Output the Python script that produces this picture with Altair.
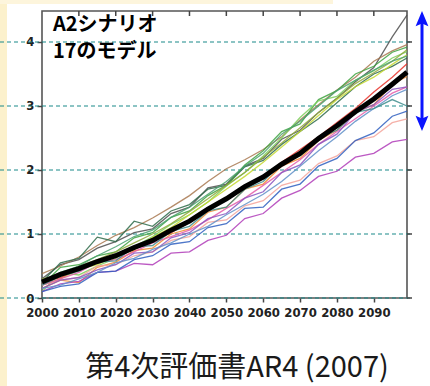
import altair as alt
import pandas as pd

# Years sampled along each projection (every 5 years, plus the final year)
YEARS = [2000, 2005, 2010, 2015, 2020, 2025, 2030, 2035, 2040, 2045, 2050,
         2055, 2060, 2065, 2070, 2075, 2080, 2085, 2090, 2095, 2099]

# Surface warming (deg C) projected by the individual A2 model runs
m01 = [0.30, 0.52, 0.60, 0.78, 0.88, 1.02, 1.08, 1.32, 1.42, 1.72, 1.78, 2.06, 2.18, 2.48, 2.62, 2.90, 3.12, 3.38, 3.60, 4.08, 4.42]
m02 = [0.38, 0.50, 0.64, 0.82, 0.98, 1.10, 1.25, 1.42, 1.60, 1.82, 2.02, 2.16, 2.32, 2.52, 2.78, 3.02, 3.25, 3.45, 3.70, 3.86, 3.96]
m03 = [0.25, 0.55, 0.62, 0.95, 0.88, 1.20, 1.12, 1.36, 1.46, 1.70, 1.76, 2.05, 2.15, 2.40, 2.60, 2.80, 3.05, 3.30, 3.50, 3.62, 3.75]
m04 = [0.20, 0.48, 0.52, 0.66, 0.72, 0.94, 1.02, 1.26, 1.36, 1.60, 1.76, 2.08, 2.30, 2.60, 2.72, 3.10, 3.24, 3.50, 3.62, 3.84, 3.92]
m05 = [0.10, 0.40, 0.36, 0.50, 0.62, 0.80, 0.96, 1.15, 1.30, 1.50, 1.75, 1.96, 2.22, 2.50, 2.82, 3.08, 3.15, 3.40, 3.55, 3.75, 3.85]
m06 = [0.20, 0.30, 0.45, 0.52, 0.66, 0.76, 0.95, 1.10, 1.30, 1.50, 1.70, 1.90, 2.12, 2.36, 2.60, 2.85, 3.10, 3.30, 3.45, 3.65, 3.80]
m07 = [0.30, 0.36, 0.50, 0.60, 0.72, 0.86, 1.00, 1.16, 1.35, 1.55, 1.76, 1.96, 2.20, 2.42, 2.66, 2.90, 3.12, 3.35, 3.52, 3.70, 3.88]
m08 = [0.25, 0.32, 0.46, 0.56, 0.66, 0.76, 0.88, 1.02, 1.18, 1.36, 1.56, 1.72, 1.90, 2.12, 2.32, 2.52, 2.74, 2.96, 3.22, 3.45, 3.66]
m09 = [0.15, 0.28, 0.24, 0.48, 0.56, 0.74, 0.78, 1.00, 1.08, 1.34, 1.42, 1.70, 1.78, 2.06, 2.18, 2.46, 2.62, 2.90, 3.02, 3.34, 3.46]
m10 = [0.20, 0.28, 0.32, 0.50, 0.52, 0.66, 0.72, 0.90, 0.96, 1.18, 1.22, 1.44, 1.52, 1.76, 1.84, 2.10, 2.22, 2.46, 2.52, 2.74, 2.80]
m11 = [0.20, 0.30, 0.40, 0.56, 0.60, 0.72, 0.86, 0.96, 1.06, 1.22, 1.40, 1.56, 1.76, 1.96, 2.16, 2.40, 2.60, 2.80, 3.00, 3.20, 3.30]
m12 = [0.10, 0.22, 0.26, 0.40, 0.42, 0.54, 0.52, 0.70, 0.72, 0.90, 0.98, 1.24, 1.32, 1.56, 1.68, 1.90, 1.98, 2.20, 2.26, 2.44, 2.48]
m13 = [0.15, 0.28, 0.32, 0.44, 0.52, 0.70, 0.72, 0.94, 1.02, 1.24, 1.32, 1.56, 1.66, 1.96, 2.08, 2.40, 2.56, 2.90, 3.02, 3.26, 3.30]
m14 = [0.10, 0.18, 0.22, 0.40, 0.42, 0.60, 0.66, 0.84, 0.88, 1.10, 1.16, 1.40, 1.42, 1.70, 1.78, 2.06, 2.18, 2.46, 2.58, 2.84, 2.92]
m15 = [0.15, 0.20, 0.30, 0.40, 0.55, 0.62, 0.76, 0.86, 1.00, 1.12, 1.30, 1.46, 1.62, 1.82, 2.06, 2.30, 2.52, 2.76, 2.96, 3.16, 3.26]
m16 = [0.20, 0.34, 0.42, 0.56, 0.58, 0.80, 0.82, 1.04, 1.12, 1.36, 1.42, 1.70, 1.82, 2.10, 2.22, 2.50, 2.62, 2.90, 2.96, 3.10, 3.00]
m17 = [0.25, 0.40, 0.50, 0.66, 0.80, 0.96, 1.06, 1.26, 1.42, 1.62, 1.82, 2.06, 2.26, 2.56, 2.76, 3.00, 3.24, 3.40, 3.56, 3.70, 3.78]

# Multi-model ensemble mean
ensemble_mean = [0.25, 0.37, 0.46, 0.57, 0.66, 0.79, 0.90, 1.06, 1.20, 1.39, 1.55,
                 1.74, 1.89, 2.09, 2.26, 2.49, 2.69, 2.91, 3.11, 3.34, 3.53]

MODELS = [m01, m02, m03, m04, m05, m06, m07, m08, m09, m10, m11, m12, m13, m14, m15, m16, m17]
PALETTE = ["#4d4d4d", "#a87850", "#2f6b4a", "#3fa33f", "#7ccf5a", "#c4d82e", "#8fa83a",
           "#e8332a", "#f08a30", "#f3a39a", "#e45aa8", "#b03cb8", "#8855c0", "#2f5fbf",
           "#5f8fc8", "#3d8c8c", "#4aa070"]

Y_LEVELS = [0, 1, 2, 3, 4]
DECADES = [2010, 2020, 2030, 2040, 2050, 2060, 2070, 2080, 2090]

TITLE_LINES = ["A2シナリオ", "17のモデル"]
CAPTION = "第4次評価書AR4 (2007)"

W, H = 365, 287
JP = "Noto Sans CJK JP"
NUM_FONT = "DejaVu Sans Condensed"

rows = []
for i, series in enumerate(MODELS):
    name = f"model{i + 1:02d}"
    for yr, v in zip(YEARS, series):
        rows.append({"year": yr, "temp": v, "model": name})
models_df = pd.DataFrame(rows)
mean_df = pd.DataFrame({"year": YEARS, "temp": ensemble_mean})
levels_df = pd.DataFrame({"v": Y_LEVELS})
decades_df = pd.DataFrame({"year": DECADES})
one = pd.DataFrame({"k": [0]})

x_scale = alt.Scale(domain=[2000, 2099], nice=False, zero=False)
y_scale = alt.Scale(domain=[0, 4.484], nice=False, zero=False)

x_axis = alt.Axis(values=list(range(2000, 2100, 10)), format="d", tickSize=4,
                  labelPadding=4, labelFlush=False, labelOverlap=False, title=None)
y_axis = alt.Axis(values=Y_LEVELS, format="d", tickSize=5, labelPadding=3,
                  labelFlush=False, labelOverlap=False, title=None)

# Cream page strips on the left edge and along the top
strip_left = alt.Chart(one).mark_rect(color="#fcf1cc").encode(
    x=alt.value(-42), x2=alt.value(-35), y=alt.value(-11), y2=alt.value(375))
strip_top = alt.Chart(one).mark_rect(color="#fdf5dc").encode(
    x=alt.value(-42), x2=alt.value(291), y=alt.value(-11), y2=alt.value(-7))

# Dashed reference levels running across the panel
levels = alt.Chart(levels_df).mark_rule(
    color="#1b8a8a", strokeDash=[4, 3], strokeWidth=1.1).encode(
    y=alt.Y("v:Q", scale=y_scale, axis=y_axis),
    x=alt.value(-42), x2=alt.value(371))

lines = alt.Chart(models_df).mark_line(strokeWidth=1.3, opacity=0.85).encode(
    x=alt.X("year:Q", scale=x_scale, axis=x_axis),
    y=alt.Y("temp:Q", scale=y_scale, axis=y_axis),
    color=alt.Color("model:N", scale=alt.Scale(domain=[f"model{i + 1:02d}" for i in range(len(MODELS))],
                                                range=PALETTE), legend=None))

mean_line = alt.Chart(mean_df).mark_line(color="#000000", strokeWidth=5).encode(
    x=alt.X("year:Q", scale=x_scale),
    y=alt.Y("temp:Q", scale=y_scale))

# Inward ticks on the top frame, outward ticks on the right frame
top_ticks = alt.Chart(decades_df).mark_rule(color="#444", strokeWidth=1.5).encode(
    x=alt.X("year:Q", scale=x_scale), y=alt.value(0), y2=alt.value(5))
right_ticks = alt.Chart(levels_df).mark_rule(color="#444", strokeWidth=1.5).encode(
    y=alt.Y("v:Q", scale=y_scale), x=alt.value(W), x2=alt.value(W + 5))

title1 = alt.Chart(pd.DataFrame({"t": [TITLE_LINES[0]]})).mark_text(
    font=JP, fontWeight="bold", fontSize=20, align="left", baseline="top", color="#000").encode(
    text="t:N", x=alt.value(11), y=alt.value(4))
title2 = alt.Chart(pd.DataFrame({"t": [TITLE_LINES[1]]})).mark_text(
    font=JP, fontWeight="bold", fontSize=20, align="left", baseline="top", color="#000").encode(
    text="t:N", x=alt.value(11), y=alt.value(31))

caption = alt.Chart(pd.DataFrame({"t": [CAPTION]})).mark_text(
    font=JP, fontSize=29, align="center", baseline="alphabetic", color="#1a1a1a").encode(
    text="t:N", x=alt.value(195), y=alt.value(366))

# Blue double-headed arrow marking the model spread
arrow_shaft = alt.Chart(one).mark_rule(color="#0a14ff", strokeWidth=3).encode(
    x=alt.value(380), y=alt.value(8), y2=alt.value(112))
arrow_up = alt.Chart(one).mark_point(
    shape="M0,-1L0.8,0.9L0,0.55L-0.8,0.9Z", filled=True, size=256, opacity=1,
    color="#0a14ff", strokeWidth=0).encode(x=alt.value(380), y=alt.value(8))
arrow_down = alt.Chart(one).mark_point(
    shape="M0,1L0.8,-0.9L0,-0.55L-0.8,-0.9Z", filled=True, size=256, opacity=1,
    color="#0a14ff", strokeWidth=0).encode(x=alt.value(380), y=alt.value(112))

chart = alt.layer(
    strip_left, strip_top, levels, lines, mean_line, top_ticks, right_ticks,
    title1, title2, caption, arrow_shaft, arrow_up, arrow_down
).properties(
    width=W, height=H,
    padding={"left": 42, "top": 11, "right": 23, "bottom": 88},
    autosize=alt.AutoSizeParams(type="none"),
).configure(background="#ffffff").configure_view(
    stroke="#555555", strokeWidth=1.6
).configure_axis(
    labelFont=NUM_FONT, labelFontWeight="bold", labelFontSize=13, labelColor="#222222",
    tickColor="#444444", tickWidth=1.5, domain=False, grid=False
)

chart.save("out.html", embed_options={"renderer": "svg", "actions": False})
